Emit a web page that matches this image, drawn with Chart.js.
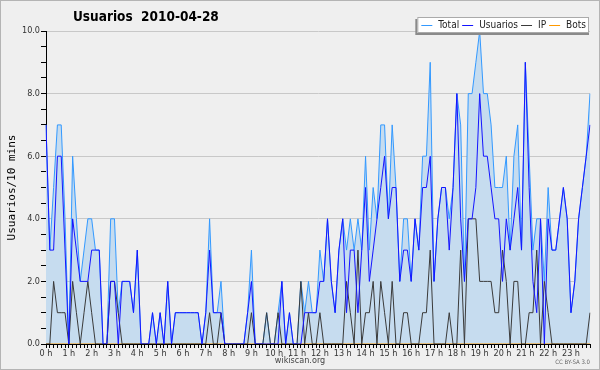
<!DOCTYPE html>
<html>
<head>
<meta charset="utf-8">
<script src="https://cdn.jsdelivr.net/npm/chart.js@4.4.0/dist/chart.umd.min.js"></script>
<style>
  html, body { margin: 0; padding: 0; background: #efefef; }
  #wrap { width: 600px; height: 370px; }
</style>
</head>
<body>
<div id="wrap"><canvas id="chart" width="600" height="370"></canvas></div>
<script>
// DATA - one value every 10 minutes, 144 per day
const hourLabels = ["0 h","1 h","2 h","3 h","4 h","5 h","6 h","7 h","8 h","9 h","10 h","11 h",
  "12 h","13 h","14 h","15 h","16 h","17 h","18 h","19 h","20 h","21 h","22 h","23 h"];

const total = [
  7,3,5,7,7,4,0,6,4,2, 3,4,4,3,3,0,0,4,4,1, 2,2,2,1,3,0,0,0,1,0,
  1,0,2,0,1,1,1,1,1,1, 1,0,1,4,1,1,2,0,0,0, 0,0,0,1,3,0,0,0,1,0,
  0,1,2,0,1,0,0,2,1,2, 1,1,3,2,4,2,1,3,4,3, 4,3,4,3,6,3,5,4,7,7,
  4,7,5,2,4,4,2,4,3,6, 6,9,2,4,5,5,4,5,8,7, 2,8,8,9,10,8,8,7,5,5,
  5,6,3,6,7,3,9,6,3,4, 4,2,5,3,3,4,5,4,1,2, 4,5,6,8
];
const usuarios = [
  7,3,3,6,6,3,0,4,3,2, 2,2,3,3,3,0,0,2,2,0, 2,2,2,1,3,0,0,0,1,0,
  1,0,2,0,1,1,1,1,1,1, 1,0,1,3,1,1,1,0,0,0, 0,0,0,1,2,0,0,0,0,0,
  0,0,2,0,1,0,0,0,1,1, 1,1,2,2,4,2,1,3,4,1, 3,3,1,3,5,2,3,4,5,6,
  4,5,5,2,3,3,2,4,3,5, 5,6,2,4,5,5,3,5,8,4, 2,4,4,5,8,6,6,5,4,4,
  2,4,3,4,5,3,9,5,2,1, 4,0,4,3,3,4,5,4,1,2, 4,5,6,7
];
const ip = [
  0,0,2,1,1,1,0,2,1,0, 1,2,1,0,0,0,0,2,2,1, 0,0,0,0,0,0,0,0,0,0,
  0,0,0,0,0,0,0,0,0,0, 0,0,0,1,0,0,1,0,0,0, 0,0,0,0,1,0,0,0,1,0,
  0,1,0,0,0,0,0,2,0,1, 0,0,1,0,0,0,0,0,0,2, 1,0,3,0,1,1,2,0,2,1,
  0,2,0,0,1,1,0,0,0,1, 1,3,0,0,0,0,1,0,0,3, 0,4,4,4,2,2,2,2,1,1,
  3,2,0,2,2,0,0,1,1,3, 0,2,1,0,0,0,0,0,0,0, 0,0,0,1
];
const bots = [
  0,0,0,0,0,0,0,0,0,0, 0,0,0,0,0,0,0,0,0,0, 0,0,0,0,0,0,0,0,0,0,
  0,0,0,0,0,0,0,0,0,0, 0,0,0,0,0,0,0,0,0,0, 0,0,0,0,0,0,0,0,0,0,
  0,0,0,0,0,0,0,0,0,0, 0,0,0,0,0,0,0,0,0,0, 0,0,0,0,0,0,0,0,0,0,
  0,0,0,0,0,0,0,0,0,0, 0,0,0,0,0,0,0,0,0,0, 0,0,0,0,0,0,0,0,0,0,
  0,0,0,0,0,0,0,0,0,0, 0,0,0,0,0,0,0,0,0,0, 0,0,0,0
];

// one slot per 10 min, hour label on the first slot of each hour
const slots = [];
hourLabels.forEach(h => { slots.push(h); for (let k = 1; k < 6; k++) slots.push(""); });

const COND = '"DejaVu Sans Condensed", "DejaVu Sans", sans-serif';

// title, legend box, footer
const decor = {
  id: "decor",
  beforeDraw(chart) {
    const c = chart.ctx;
    c.save();
    c.fillStyle = "#efefef";
    c.fillRect(0, 0, chart.width, chart.height);
    c.restore();
  },
  afterDraw(chart) {
    const c = chart.ctx;
    c.save();
    // frame
    c.strokeStyle = "#b4b4b4";
    c.lineWidth = 1;
    c.strokeRect(0.5, 0.5, chart.width - 1, chart.height - 1);

    // title
    c.fillStyle = "#000";
    c.font = "bold 13.5px " + COND;
    c.textBaseline = "alphabetic";
    c.fillText("Usuarios  2010-04-28", 73, 21);

    // legend
    c.font = "10px " + COND;
    const sets = chart.data.datasets;
    let w = 4;
    sets.forEach(d => { w += 11 + 6 + c.measureText(d.label).width + 3; });
    const bx = 589 - w, by = 17, bh = 16;
    c.fillStyle = "#8a8a8a";
    c.fillRect(bx - 2, by + 2, w + 2, bh);
    c.fillStyle = "#fff";
    c.fillRect(bx, by, w, bh);
    c.strokeStyle = "#aaa";
    c.strokeRect(bx + 0.5, by + 0.5, w - 1, bh - 1);
    let x = bx + 4;
    c.textBaseline = "middle";
    sets.forEach(d => {
      c.strokeStyle = d.borderColor;
      c.lineWidth = 1;
      c.beginPath();
      c.moveTo(x, by + 8.5);
      c.lineTo(x + 11, by + 8.5);
      c.stroke();
      x += 17;
      c.fillStyle = "#222";
      c.fillText(d.label, x, by + 8.5);
      x += c.measureText(d.label).width + 3;
    });

    // footer
    c.fillStyle = "#444";
    c.font = "9px " + COND;
    c.textAlign = "center";
    c.textBaseline = "middle";
    c.fillText("wikiscan.org", 300, 361);
    c.font = "6px " + COND;
    c.textAlign = "right";
    c.fillStyle = "#666";
    c.fillText("CC BY-SA 3.0", 590, 362);
    c.restore();
  }
};

const ctx = document.getElementById("chart").getContext("2d");

const chart = new Chart(ctx, {
  type: "line",
  data: {
    labels: slots,
    datasets: [
      { label: "Total", data: total, borderColor: "#3399ff", backgroundColor: "#c6dcef", fill: "origin", order: 4 },
      { label: "Usuarios", data: usuarios, borderColor: "#1414ff", fill: false, order: 1 },
      { label: "IP", data: ip, borderColor: "#3a3a3a", fill: false, order: 2 },
      { label: "Bots", data: bots, borderColor: "#ff9900", fill: false, order: 3 }
    ]
  },
  options: {
    responsive: false,
    animation: false,
    devicePixelRatio: 1,
    layout: { padding: { top: 31, right: 10, left: 0, bottom: 0 } },
    elements: {
      point: { radius: 0 },
      line: { tension: 0, borderWidth: 1 }
    },
    plugins: {
      legend: { display: false },
      tooltip: { enabled: false },
      title: { display: false }
    },
    scales: {
      x: {
        z: 1,
        border: { color: "#000", width: 1 },
        grid: { drawOnChartArea: false, tickColor: "#000", tickLength: 4 },
        ticks: {
          autoSkip: false, maxRotation: 0, padding: 0, color: "#333",
          font: { family: COND, size: 9 },
          callback: (v, i) => slots[i]
        },
        afterFit: s => { s.height = 26; }
      },
      y: {
        min: 0, max: 10,
        border: { color: "#000", width: 1 },
        grid: {
          color: c => (c.tick && c.tick.value % 2 === 0 ? "#c8c8c8" : "rgba(0,0,0,0)"),
          tickColor: "#000", tickLength: 5
        },
        ticks: {
          stepSize: 0.5, autoSkip: false, padding: 1, color: "#333",
          font: { family: COND, size: 9 },
          callback: v => (v % 2 === 0 ? v.toFixed(1) : "")
        },
        title: {
          display: true, text: "Usuarios/10 mins", color: "#000",
          font: { family: '"DejaVu Sans Mono", monospace', size: 11 },
          padding: { top: 6, bottom: 0 }
        },
        afterFit: s => { s.width = 46; }
      }
    }
  },
  plugins: [decor]
});
</script>
</body>
</html>
